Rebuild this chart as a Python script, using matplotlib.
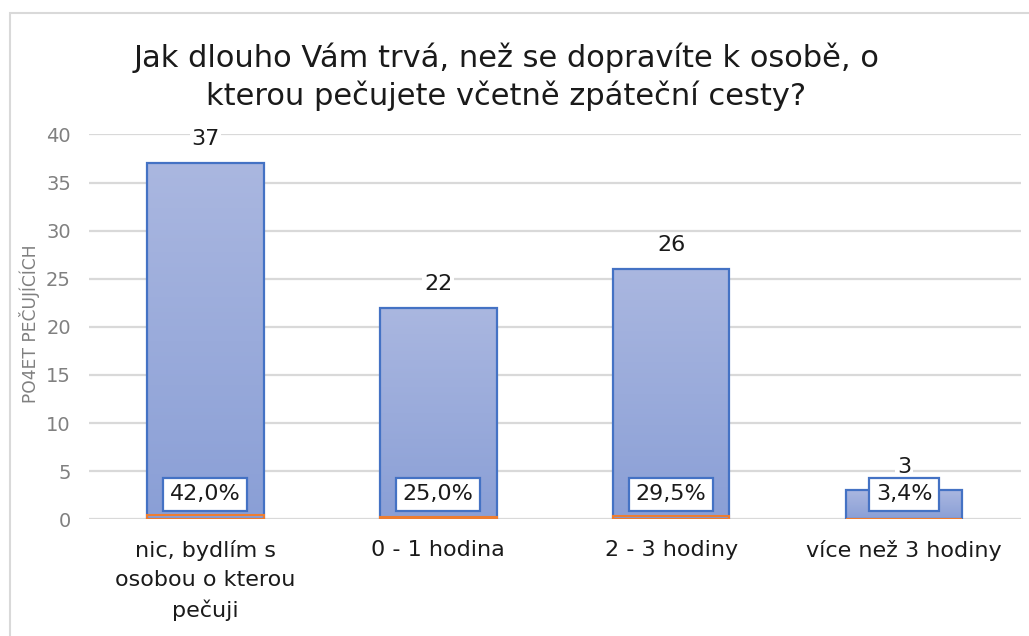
import numpy as np
import matplotlib
matplotlib.use("Agg")
import matplotlib.pyplot as plt
from matplotlib.colors import LinearSegmentedColormap
from matplotlib.patches import Rectangle

categories = ["nic, bydlím s\nosobou o kterou\npečuji", "0 - 1 hodina", "2 - 3 hodiny", "více než 3 hodiny"]
counts = [37, 22, 26, 3]
percents = [42.0, 25.0, 29.5, 3.4]
yticks = [0, 5, 10, 15, 20, 25, 30, 35, 40]
title = "Jak dlouho Vám trvá, než se dopravíte k osobě, o\nkterou pečujete včetně zpáteční cesty?"
ylabel = "PO4ET PEČUJÍCÍCH"

plt.rcParams["font.family"] = ["DejaVu Sans"]

fig = plt.figure(figsize=(10.29, 6.36), dpi=100)
# light frame
fig.patches.append(Rectangle((10/1029, -0.1), 1.2, 1.1 - 13/636, transform=fig.transFigure,
                             fill=False, ec="#D9D9D9", lw=1.5, zorder=0))

ax = fig.add_axes([89/1029, 1 - 519.3/636, 931.5/1029, (519.3 - 134.5)/636])
for s in ax.spines.values():
    s.set_visible(False)
ax.set_yticks(yticks)
ax.yaxis.grid(True, color="#D9D9D9", lw=1.6)
ax.set_axisbelow(True)
ax.tick_params(axis="y", length=0, pad=13, labelsize=14, labelcolor="#808080")
ax.tick_params(axis="x", length=0, pad=15, labelsize=16, labelcolor="#1A1A1A")
x = np.arange(len(categories))
ax.set_xticks(x)
ax.set_xticklabels(categories, linespacing=1.55)

cmap = LinearSegmentedColormap.from_list("g", ["#8A9FD6", "#AAB7E0"])
grad = np.linspace(0, 1, 256).reshape(-1, 1)
bars = ax.bar(x, counts, width=0.5, color="none", edgecolor="#4472C4", lw=1.6, zorder=3)
for b in bars:
    x0, w, h = b.get_x(), b.get_width(), b.get_height()
    im = ax.imshow(grad, extent=[x0, x0 + w, 0, h], origin="lower", cmap=cmap,
                   aspect="auto", zorder=2)
    im.set_clip_path(b)
ax.set_xlim(-0.5, len(categories) - 0.5)
ax.set_ylim(0, 40)

pbars = ax.bar(x, [p / 100 for p in percents], width=0.5, color="none",
               edgecolor="#ED7D31", lw=1.5, zorder=4)

for i, c in enumerate(counts):
    ax.annotate(str(c), xy=(i, c), xytext=(0, 10), textcoords="offset points",
                ha="center", va="bottom", fontsize=16, color="#1A1A1A", zorder=6,
                bbox=dict(boxstyle="square,pad=0.08", fc="white", ec="none"))

for i, p in enumerate(percents):
    txt = f"{p:.1f}".replace(".", ",") + "%"
    ax.annotate(txt, xy=(i, 0), xytext=(0, 18), textcoords="offset points",
                ha="center", va="center", fontsize=16, color="#1A1A1A", zorder=6,
                bbox=dict(boxstyle="square,pad=0.3", fc="white", ec="#4472C4", lw=1.6))

fig.text(30/1029, 1 - 324/636, ylabel, rotation=90, ha="center", va="center",
         fontsize=12.3, color="#808080")

fig.text(506/1029, 1 - 77/636, title, ha="center", va="center", fontsize=22,
         color="#1A1A1A", linespacing=1.3)

fig.savefig("out.png", dpi=100)
